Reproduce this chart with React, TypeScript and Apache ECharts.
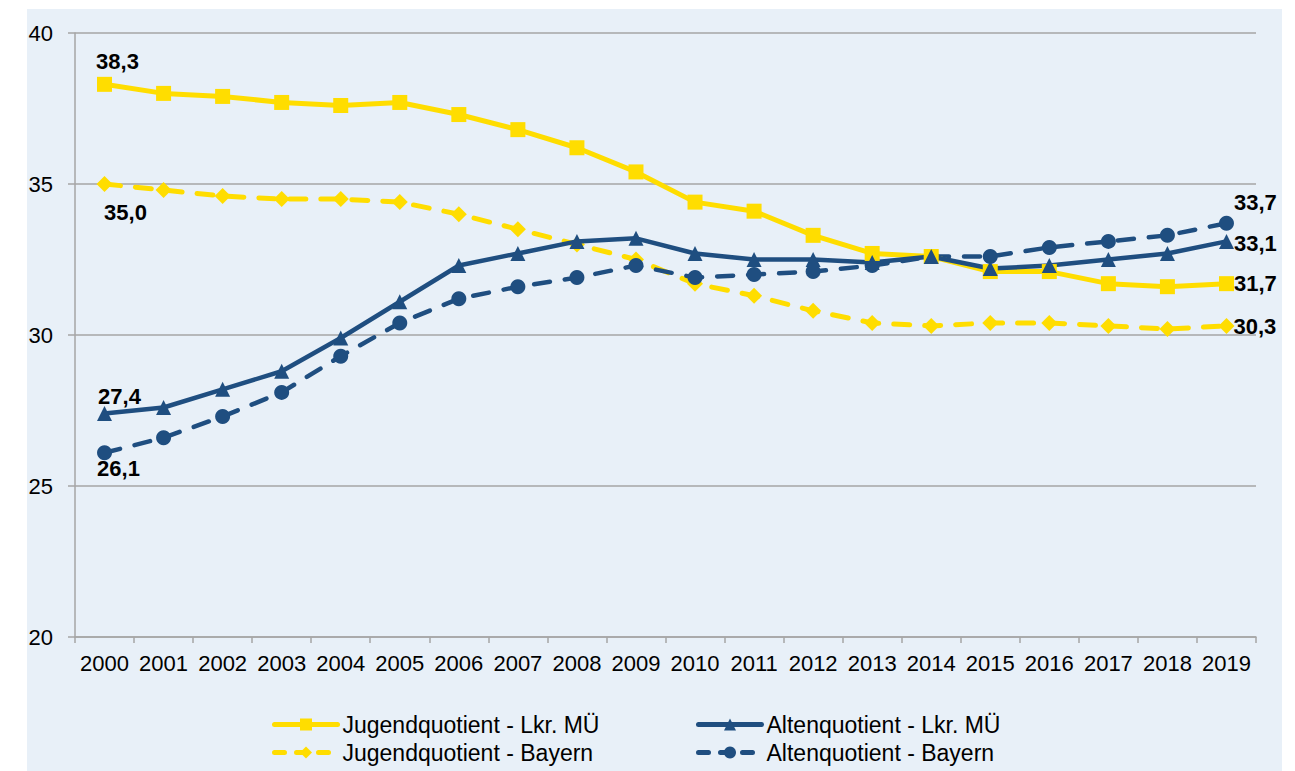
import React, { useEffect, useRef } from "react";
import * as echarts from "echarts";

const years = ["2000","2001","2002","2003","2004","2005","2006","2007","2008","2009","2010","2011","2012","2013","2014","2015","2016","2017","2018","2019"];
const jugendMU = [38.3,38.0,37.9,37.7,37.6,37.7,37.3,36.8,36.2,35.4,34.4,34.1,33.3,32.7,32.6,32.1,32.1,31.7,31.6,31.7];
const jugendBY = [35.0,34.8,34.6,34.5,34.5,34.4,34.0,33.5,33.0,32.5,31.7,31.3,30.8,30.4,30.3,30.4,30.4,30.3,30.2,30.3];
const altenMU = [27.4,27.6,28.2,28.8,29.9,31.1,32.3,32.7,33.1,33.2,32.7,32.5,32.5,32.4,32.6,32.2,32.3,32.5,32.7,33.1];
const altenBY = [26.1,26.6,27.3,28.1,29.3,30.4,31.2,31.6,31.9,32.3,31.9,32.0,32.1,32.3,32.6,32.6,32.9,33.1,33.3,33.7];
const seriesNames = ["Jugendquotient - Lkr. MÜ","Altenquotient - Lkr. MÜ","Jugendquotient - Bayern","Altenquotient - Bayern"];

const YELLOW = "#FFDD00";
const BLUE = "#1F4E80";
const FONT = "Liberation Sans";

const fmt = (v: number) => v.toFixed(1).replace(".", ",");

const labelBase = { show: true, fontFamily: FONT, fontSize: 22, fontWeight: "bold" as const, color: "#000" };

function buildData(vals: number[], first: any, last: any) {
  return vals.map((v, i) => {
    if (i === 0) return { value: v, label: { ...labelBase, ...first, formatter: () => fmt(v) } };
    if (i === vals.length - 1) return { value: v, label: { ...labelBase, ...last, formatter: () => fmt(v) } };
    return { value: v };
  });
}

export default function App() {
  const ref = useRef<HTMLDivElement>(null);
  useEffect(() => {
    if (!ref.current) return;
    const chart = echarts.init(ref.current, undefined, { renderer: "svg" });
    const mkSeries = (name: string, vals: number[], color: string, dashed: boolean, symbol: string, size: number, width: number, first: any, last: any) => ({
      name,
      type: "line",
      data: buildData(vals, first, last),
      symbol,
      symbolSize: size,
      showAllSymbol: true,
      itemStyle: { color },
      lineStyle: { color, width, type: dashed ? [16, 15] : "solid", cap: dashed ? "round" : "butt" },
      label: { show: false },
      emphasis: { disabled: true },
      z: dashed ? 2 : 3,
    });
    const legendItem = (name: string, color: string, dashed: boolean) => ({
      name,
      lineStyle: { color, width: 5, type: dashed ? [10, 12] : "solid", cap: "round" },
    });
    const legendCommon = {
      orient: "vertical",
      top: 713,
      itemWidth: 63,
      itemHeight: 15,
      itemGap: 5,
      padding: 0,
      textStyle: { fontFamily: FONT, fontSize: 23, color: "#000" },
    };
    chart.setOption({
      animation: false,
      graphic: [
        { type: "rect", shape: { x: 27, y: 9, width: 1255, height: 762 }, style: { fill: "#E8F0F8" }, z: -10, silent: true },
      ],
      grid: { left: 75, right: 39, top: 33, bottom: 134 },
      xAxis: {
        type: "category",
        data: years,
        boundaryGap: true,
        axisLine: { show: true, lineStyle: { color: "#A6A6A6", width: 1.5 } },
        axisTick: { show: true, length: 6, interval: 0, lineStyle: { color: "#A6A6A6", width: 1.5 } },
        axisLabel: { fontFamily: FONT, fontSize: 22, color: "#000", margin: 15, interval: 0, hideOverlap: false },
      },
      yAxis: {
        type: "value",
        min: 20,
        max: 40,
        interval: 5,
        axisLine: { show: true, lineStyle: { color: "#A6A6A6", width: 1.5 } },
        axisTick: { show: true, length: 7, lineStyle: { color: "#A6A6A6", width: 1.5 } },
        splitLine: { show: true, lineStyle: { color: "#A6A6A6", width: 1.5 } },
        axisLabel: { fontFamily: FONT, fontSize: 22, color: "#000", margin: 22 },
      },
      legend: [
        { ...legendCommon, data: [legendItem(seriesNames[0], YELLOW, false), legendItem(seriesNames[2], YELLOW, true)], left: 272 },
        { ...legendCommon, data: [legendItem(seriesNames[1], BLUE, false), legendItem(seriesNames[3], BLUE, true)], left: 696 },
      ],
      series: [
        mkSeries(seriesNames[0], jugendMU, YELLOW, false, "rect", 15, 5, { position: "top", offset: [13, 1] }, { position: "right", offset: [-5, 0] }),
        mkSeries(seriesNames[1], altenMU, BLUE, false, "triangle", 15, 4.5, { position: "top", offset: [15, 6] }, { position: "right", offset: [-5, 2] }),
        mkSeries(seriesNames[2], jugendBY, YELLOW, true, "diamond", 16, 5, { position: "bottom", offset: [21, 4] }, { position: "right", offset: [-6, 1] }),
        mkSeries(seriesNames[3], altenBY, BLUE, true, "circle", 15, 4.5, { position: "bottom", offset: [14, -8] }, { position: "right", offset: [-5, -21] }),
      ],
    });
    return () => chart.dispose();
  }, []);
  return <div ref={ref} style={{ position: "absolute", left: 0, top: 0, width: 1295, height: 771 }} />;
}
